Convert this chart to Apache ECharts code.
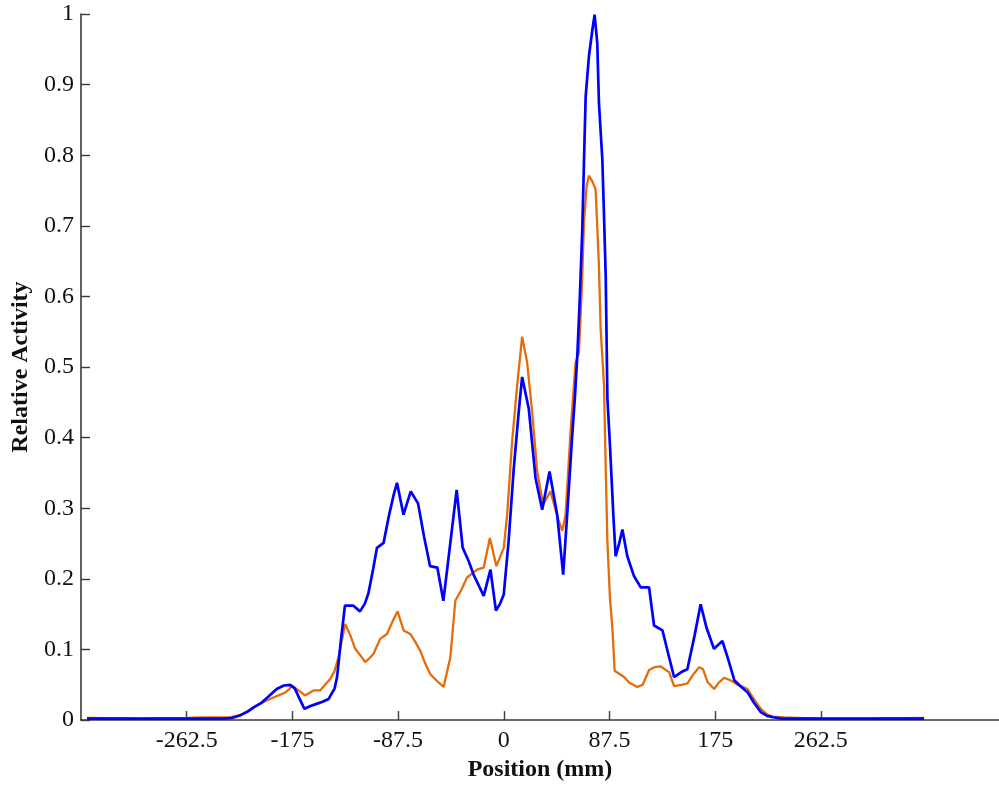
<!DOCTYPE html>
<html>
<head>
<meta charset="utf-8">
<title>Relative Activity vs Position</title>
<script src="https://cdn.jsdelivr.net/npm/echarts@6/dist/echarts.min.js"></script>
<style>
  html, body { margin: 0; padding: 0; background: #fff; }
  #chart { width: 999px; height: 787px; }
</style>
</head>
<body>
<div id="chart"></div>
<script>
// values (mm, relative activity)
const positionsBlue = [
  -345, -300, -260, -232, -225, -218, -212, -207, -201, -195, -188, -182, -177, -173, -169, -165,
  -160, -155, -150, -145, -140, -138, -135, -131.5, -124.5, -119, -115, -112, -108, -105, -99.5,
  -95, -91, -88.4, -83, -77, -71, -66, -61, -55, -50, -45, -39, -34, -29, -25, -16.6, -11, -6.5,
  -3, 0, 4, 8.3, 12.4, 15.2, 20.7, 26.3, 31.8, 37.9, 44.2, 49.2, 52.5, 56.7, 59, 61, 63, 65, 66.4,
  67.8, 70.5, 73.3, 75.2, 77.4, 78.8, 81.6, 83, 84.4, 85.8, 87.9, 90.7, 92.6, 95.5, 98.2, 102.3,
  107.8, 113.4, 120.3, 124.4, 131.4, 136, 141, 147, 152, 158, 163, 168, 174, 181, 186, 191, 196,
  202, 207, 213, 218, 223, 230, 260, 300, 348
];
const activityBlue = [
  0.002, 0.002, 0.002, 0.002, 0.003, 0.007, 0.012, 0.018, 0.024, 0.033, 0.044, 0.049, 0.05, 0.045, 0.03, 0.016,
  0.02, 0.023, 0.026, 0.03, 0.045, 0.061, 0.11, 0.162, 0.162, 0.154, 0.165, 0.18, 0.215, 0.244, 0.251,
  0.29, 0.32, 0.336, 0.291, 0.324, 0.307, 0.26, 0.218, 0.216, 0.169, 0.24, 0.326, 0.244, 0.225, 0.206, 0.176, 0.213, 0.155,
  0.165, 0.178, 0.253, 0.357, 0.437, 0.486, 0.441, 0.343, 0.298, 0.352, 0.291, 0.206, 0.291, 0.404, 0.46, 0.52, 0.6, 0.695, 0.79,
  0.883, 0.94, 0.977, 0.999, 0.959, 0.874, 0.794, 0.714, 0.629, 0.456, 0.39, 0.291, 0.232, 0.25, 0.27, 0.232,
  0.204, 0.188, 0.188, 0.134, 0.127, 0.095, 0.061, 0.068, 0.072, 0.12, 0.164, 0.13, 0.101, 0.112, 0.085, 0.056, 0.048,
  0.039, 0.025, 0.011, 0.006, 0.004, 0.002, 0.002, 0.002, 0.002
];

const positionsOrange = [
  -345, -300, -262, -250, -228, -218, -211, -204.5, -197, -190.7, -185, -181, -177.5, -175.5, -170,
  -164.5, -157.6, -152, -148, -143.7, -140, -136.8, -131.3, -127, -123, -118, -114.7, -111, -107.8,
  -102.3, -96.7, -92, -87.9, -82.9, -77.4, -73, -69.1, -65, -60.8, -55, -49.8, -44.2, -40.1, -35,
  -30.4, -22.1, -16.6, -11.5, -6.1, 0, 2.8, 6.9, 11.1, 15.2, 19.3, 23.5, 27.7, 32.6, 38.7, 44.8,
  48.4, 51.2, 55.3, 59.5, 62.2, 63.6, 65, 66.4, 68.6, 70.5, 73.3, 76, 77.4, 78.8, 80.2, 83, 84.4,
  85.8, 87.9, 89.9, 91.8, 99.6, 104, 110.6, 115, 120.3, 125, 130, 136.9, 141, 147, 152.1, 157,
  161.8, 165, 168.7, 174.2, 178, 182.5, 188, 193.6, 198, 201.8, 207, 212.9, 218, 222.6, 232, 260,
  300, 348
];
const activityOrange = [
  0.003, 0.002, 0.003, 0.004, 0.004, 0.007, 0.014, 0.021, 0.027, 0.032, 0.036, 0.039, 0.044, 0.049, 0.042,
  0.035, 0.042, 0.042, 0.05, 0.058, 0.07, 0.089, 0.136, 0.12, 0.101, 0.09, 0.082, 0.088, 0.094,
  0.115, 0.122, 0.14, 0.154, 0.127, 0.122, 0.11, 0.098, 0.08, 0.065, 0.055, 0.047, 0.089, 0.169, 0.185,
  0.202, 0.213, 0.216, 0.258, 0.218, 0.244, 0.291, 0.394, 0.474, 0.543, 0.507, 0.437, 0.352, 0.305, 0.324, 0.286,
  0.268, 0.291, 0.409, 0.507, 0.52, 0.57, 0.63, 0.705, 0.756, 0.771, 0.763, 0.752, 0.70, 0.643, 0.554, 0.474, 0.357,
  0.253, 0.173, 0.131, 0.070, 0.061, 0.053, 0.047, 0.05, 0.071, 0.075, 0.076, 0.068, 0.048, 0.05, 0.052, 0.065,
  0.075, 0.072, 0.054, 0.044, 0.053, 0.060, 0.056, 0.050, 0.047, 0.044, 0.03, 0.016, 0.008, 0.005, 0.004, 0.002,
  0.002, 0.003
];

const xTickValues = [-262.5, -175, -87.5, 0, 87.5, 175, 262.5];

const zip = (xs, ys) => xs.map((x, i) => [x, ys[i]]);

const chart = echarts.init(document.getElementById("chart"));
const serif = "'Liberation Serif', 'Times New Roman', serif";
const axisColor = "#3a3a3a";

chart.setOption({
  animation: false,
  grid: { left: 81, right: 0, top: 14, bottom: 64, containLabel: false },
  xAxis: {
    type: "value",
    min: -350,
    max: 410,
    name: "Position (mm)",
    nameLocation: "middle",
    nameGap: 34,
    nameTextStyle: { fontFamily: serif, fontWeight: "bold", fontSize: 24, color: "#111" },
    axisLine: { show: true, onZero: false, lineStyle: { color: axisColor, width: 1.6 } },
    axisTick: { show: true, inside: true, length: 9, customValues: xTickValues, lineStyle: { color: axisColor, width: 1.4 } },
    axisLabel: {
      customValues: xTickValues,
      margin: 9,
      fontFamily: serif,
      fontSize: 24,
      color: "#111",
      formatter: v => String(v)
    },
    splitLine: { show: false }
  },
  yAxis: {
    type: "value",
    min: 0,
    max: 1,
    interval: 0.1,
    name: "Relative Activity",
    nameLocation: "middle",
    nameGap: 48,
    nameTextStyle: { fontFamily: serif, fontWeight: "bold", fontSize: 24, color: "#111" },
    axisLine: { show: true, onZero: false, lineStyle: { color: axisColor, width: 1.6 } },
    axisTick: { show: true, inside: true, length: 9, lineStyle: { color: axisColor, width: 1.4 } },
    axisLabel: {
      margin: 7,
      fontFamily: serif,
      fontSize: 24,
      color: "#111",
      formatter: v => String(Math.round(v * 10) / 10)
    },
    splitLine: { show: false }
  },
  series: [
    {
      name: "Orange",
      type: "line",
      data: zip(positionsOrange, activityOrange),
      showSymbol: false,
      lineStyle: { color: "#E46C0A", width: 2.3 },
      itemStyle: { color: "#E46C0A" },
      z: 2
    },
    {
      name: "Blue",
      type: "line",
      data: zip(positionsBlue, activityBlue),
      showSymbol: false,
      lineStyle: { color: "#0000FF", width: 2.7 },
      itemStyle: { color: "#0000FF" },
      z: 3
    }
  ]
});
</script>
</body>
</html>
